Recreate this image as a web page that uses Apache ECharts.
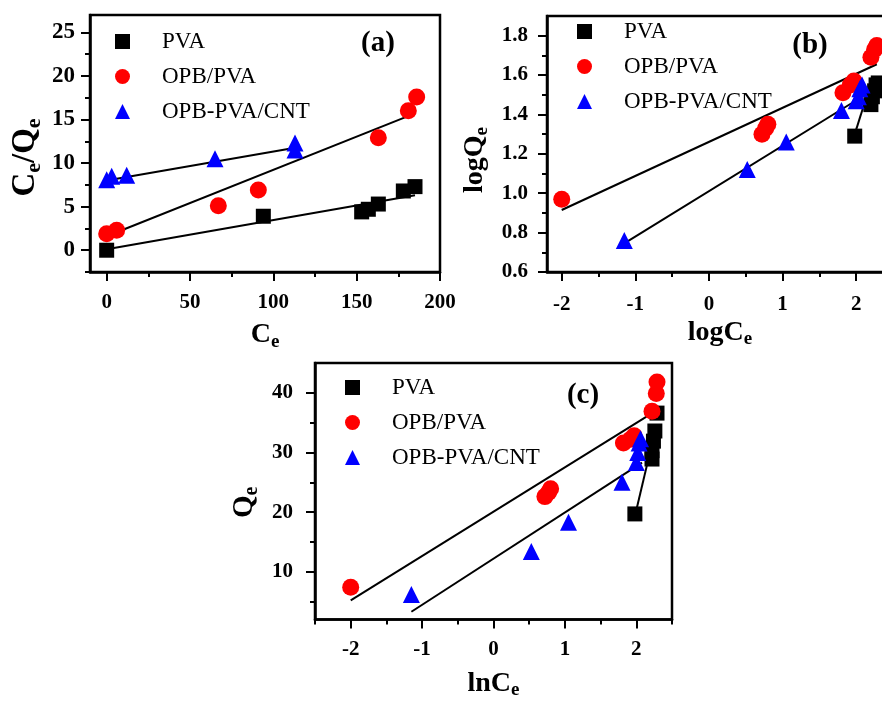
<!DOCTYPE html>
<html>
<head>
<meta charset="utf-8">
<script src="https://cdn.jsdelivr.net/npm/echarts@6/dist/echarts.min.js"></script>
<style>
  html, body { margin: 0; padding: 0; background: #fff; overflow: hidden; }
  /* the canvas runs a little past the window so panel (b) is cropped on the right */
  #chart { width: 900px; height: 701px; }
</style>
</head>
<body>
<div id="chart"></div>
<script>
// ---------- (a) linear Langmuir: Ce/Qe vs Ce ----------
const aPvaX = [0, 94, 153, 157, 163, 178, 185];
const aPvaY = [0, 3.9, 4.4, 4.7, 5.3, 6.8, 7.3];
const aOpbX = [0, 6, 67, 91, 163, 181, 186];
const aOpbY = [1.9, 2.3, 5.1, 6.9, 12.9, 16.0, 17.6];
const aCntX = [0, 3, 12, 65, 113, 113];
const aCntY = [8.1, 8.5, 8.6, 10.5, 12.3, 11.5];
const aPvaFitX = [0, 185], aPvaFitY = [0.1, 6.3];
const aOpbFitX = [0, 185], aOpbFitY = [1.6, 15.7];
const aCntFitX = [0, 114], aCntFitY = [8.0, 11.8];

// ---------- (b) Freundlich: logQe vs logCe ----------
const bPvaX = [1.98, 2.2, 2.22, 2.25, 2.27, 2.3];
const bPvaY = [1.29, 1.45, 1.49, 1.52, 1.55, 1.56];
const bOpbX = [-2.0, 0.72, 0.77, 0.8, 1.82, 1.92, 1.97, 2.2, 2.25, 2.28];
const bOpbY = [0.97, 1.30, 1.33, 1.35, 1.51, 1.55, 1.57, 1.69, 1.73, 1.75];
const bCntX = [-1.15, 0.52, 1.05, 1.8, 2.0, 2.03, 2.05, 2.08];
const bCntY = [0.76, 1.12, 1.26, 1.42, 1.47, 1.49, 1.53, 1.55];
const bPvaFitX = [1.98, 2.2], bPvaFitY = [1.30, 1.56];
const bOpbFitX = [-2.0, 2.28], bOpbFitY = [0.915, 1.655];
const bCntFitX = [-1.15, 2.08], bCntFitY = [0.745, 1.49];

// ---------- (c) Temkin: Qe vs lnCe ----------
const cPvaX = [1.98, 2.22, 2.22, 2.24, 2.26, 2.29];
const cPvaY = [19.7, 28.9, 30.3, 31.9, 33.6, 36.6];
const cOpbX = [-2.0, 0.72, 0.77, 0.8, 1.82, 1.92, 1.97, 2.22, 2.28, 2.29];
const cOpbY = [7.4, 22.6, 23.3, 23.9, 31.6, 32.2, 32.8, 36.9, 39.9, 41.8];
const cCntX = [-1.15, 0.53, 1.05, 1.8, 2.0, 2.02, 2.04, 2.06];
const cCntY = [6.2, 13.4, 18.3, 25.0, 28.3, 30.0, 31.6, 32.3];
const cPvaFitX = [1.99, 2.28], cPvaFitY = [19.8, 34.5];
const cOpbFitX = [-2.0, 2.29], cOpbFitY = [5.2, 37.1];
const cCntFitX = [-1.15, 2.08], cCntFitY = [3.3, 28.3];

// ---------- tick values ----------
const aXTicks = [0, 50, 100, 150, 200];
const aXMinor = [25, 75, 125, 175];
const aYTicks = [0, 5, 10, 15, 20, 25];
const aYMinor = [-2.5, 2.5, 7.5, 12.5, 17.5, 22.5];
const bXTicks = [-2, -1, 0, 1, 2];
const bXMinor = [-1.5, -0.5, 0.5, 1.5];
const bYTicks = [0.6, 0.8, 1.0, 1.2, 1.4, 1.6, 1.8];
const bYMinor = [0.7, 0.9, 1.1, 1.3, 1.5, 1.7];
const cXTicks = [-2, -1, 0, 1, 2];
const cXMinor = [-2.5, -1.5, -0.5, 0.5, 1.5, 2.5];
const cYTicks = [10, 20, 30, 40];
const cYMinor = [5, 15, 25, 35];

const seriesNames = ['PVA', 'OPB/PVA', 'OPB-PVA/CNT'];
const panelTags = ['(a)', '(b)', '(c)'];

const SERIF = '"Liberation Serif", "Times New Roman", serif';
const zip = (xs, ys) => xs.map((x, i) => [x, ys[i]]);

// bold title with a lowered "e" subscript
function titleRich(size) {
  const sub = Math.round(size * 0.68);
  return {
    fontFamily: SERIF, fontWeight: 'bold', fontSize: size, color: '#000',
    rich: {
      m: { fontFamily: SERIF, fontWeight: 'bold', fontSize: size, color: '#000', lineHeight: size + 2 },
      s: { fontFamily: SERIF, fontWeight: 'bold', fontSize: sub, color: '#000',
           lineHeight: sub, padding: [Math.round(size * 0.5), 0, 0, 0] }
    }
  };
}

function mainAxis(gridIndex, min, max, ticks, decimals, labelMargin, labelSize,
                  name, nameSize, nameGap, namePad, pos) {
  const ts = titleRich(nameSize);
  if (namePad) ts.padding = namePad;
  return {
    type: 'value', gridIndex, min, max, position: pos,
    axisLine: { show: true, onZero: false, lineStyle: { color: '#000', width: 2.5 } },
    axisTick: { show: true, inside: false, length: 9, customValues: ticks,
                lineStyle: { color: '#000', width: 2 } },
    axisLabel: { show: true, customValues: ticks, margin: labelMargin,
                 formatter: v => Number(v).toFixed(decimals),
                 fontFamily: SERIF, fontWeight: 'bold', fontSize: labelSize, color: '#000' },
    splitLine: { show: false },
    name, nameLocation: 'middle', nameGap, nameTextStyle: ts
  };
}

function minorAxis(gridIndex, min, max, ticks, pos) {
  return {
    type: 'value', gridIndex, min, max, position: pos,
    axisLine: { show: false, onZero: false },
    axisTick: { show: true, inside: false, length: 5, customValues: ticks,
                lineStyle: { color: '#000', width: 2 } },
    axisLabel: { show: false },
    splitLine: { show: false }
  };
}

const xAxis = [
  mainAxis(0, -10, 200, aXTicks, 0, 20, 21, '{m|C}{s|e}', 28, 48, null, 'bottom'),
  minorAxis(0, -10, 200, aXMinor, 'bottom'),
  mainAxis(1, -2.2, 2.5, bXTicks, 0, 22, 21, '{m|logC}{s|e}', 28, 41, null, 'bottom'),
  minorAxis(1, -2.2, 2.5, bXMinor, 'bottom'),
  mainAxis(2, -2.5, 2.5, cXTicks, 0, 20, 21, '{m|lnC}{s|e}', 28, 49, null, 'bottom'),
  minorAxis(2, -2.5, 2.5, cXMinor, 'bottom')
];
const yAxis = [
  mainAxis(0, -2.5, 27, aYTicks, 0, 15, 23, '{m|C}{s|e}{m|/Q}{s|e}', 33, 47, [0, 28, 0, 0], 'left'),
  minorAxis(0, -2.5, 27, aYMinor, 'left'),
  mainAxis(1, 0.6, 1.9, bYTicks, 1, 19, 21, '{m|logQ}{s|e}', 28, 57, [0, 32, 0, 0], 'left'),
  minorAxis(1, 0.6, 1.9, bYMinor, 'left'),
  mainAxis(2, 2, 45, cYTicks, 0, 22, 21, '{m|Q}{s|e}', 29, 55, [0, 22, 0, 0], 'left'),
  minorAxis(2, 2, 45, cYMinor, 'left')
];

const grid = [
  { left: 90, top: 15, width: 350, height: 257 },
  { left: 547, top: 16, width: 346, height: 256 },
  { left: 315, top: 363, width: 357, height: 260 }
].map(g => Object.assign(g, { show: true, borderColor: '#000', borderWidth: 2.5,
                               backgroundColor: 'transparent', containLabel: false }));

const marks = [
  { symbol: 'rect', size: 15, color: '#000000' },
  { symbol: 'circle', size: 17, color: '#ff0000' },
  { symbol: 'triangle', size: 17, color: '#0000ff' }
];

const panels = [
  { pts: [[aPvaX, aPvaY], [aOpbX, aOpbY], [aCntX, aCntY]],
    fits: [[aPvaFitX, aPvaFitY], [aOpbFitX, aOpbFitY], [aCntFitX, aCntFitY]] },
  { pts: [[bPvaX, bPvaY], [bOpbX, bOpbY], [bCntX, bCntY]],
    fits: [[bPvaFitX, bPvaFitY], [bOpbFitX, bOpbFitY], [bCntFitX, bCntFitY]] },
  { pts: [[cPvaX, cPvaY], [cOpbX, cOpbY], [cCntX, cCntY]],
    fits: [[cPvaFitX, cPvaFitY], [cOpbFitX, cOpbFitY], [cCntFitX, cCntFitY]] }
];

const series = [];
panels.forEach((p, k) => {
  p.pts.forEach((xy, i) => {
    series.push({
      type: 'scatter', name: seriesNames[i], xAxisIndex: 2 * k, yAxisIndex: 2 * k,
      data: zip(xy[0], xy[1]), symbol: marks[i].symbol, symbolSize: marks[i].size,
      itemStyle: { color: marks[i].color, opacity: 1 }, z: 3 + i, silent: true
    });
  });
  p.fits.forEach((xy, i) => {
    series.push({
      type: 'line', name: seriesNames[i] + ' fit', xAxisIndex: 2 * k, yAxisIndex: 2 * k,
      data: zip(xy[0], xy[1]), symbol: 'none', z: 2, silent: true,
      lineStyle: { color: '#000', width: 2 }
    });
  });
});

function legendAt(left, top) {
  return {
    data: seriesNames, orient: 'vertical', left, top, padding: 0,
    itemWidth: 15, itemHeight: 15, itemGap: 12, selectedMode: false,
    textStyle: { fontFamily: SERIF, fontSize: 23, color: '#000', lineHeight: 23,
                 padding: [0, 0, 0, 27] }
  };
}

const tagPos = [[378, 44], [810, 46], [583, 396]];
const graphic = panelTags.map((t, i) => ({
  type: 'text', x: tagPos[i][0], y: tagPos[i][1], silent: true,
  style: { text: t, align: 'center', verticalAlign: 'middle',
           font: 'bold 29px ' + SERIF, fill: '#000' }
}));

const chart = echarts.init(document.getElementById('chart'), null, { renderer: 'canvas' });
chart.setOption({
  animation: false,
  backgroundColor: '#ffffff',
  grid, xAxis, yAxis, series, graphic,
  legend: [legendAt(115, 30), legendAt(577, 20), legendAt(345, 376)]
});
</script>
</body>
</html>
